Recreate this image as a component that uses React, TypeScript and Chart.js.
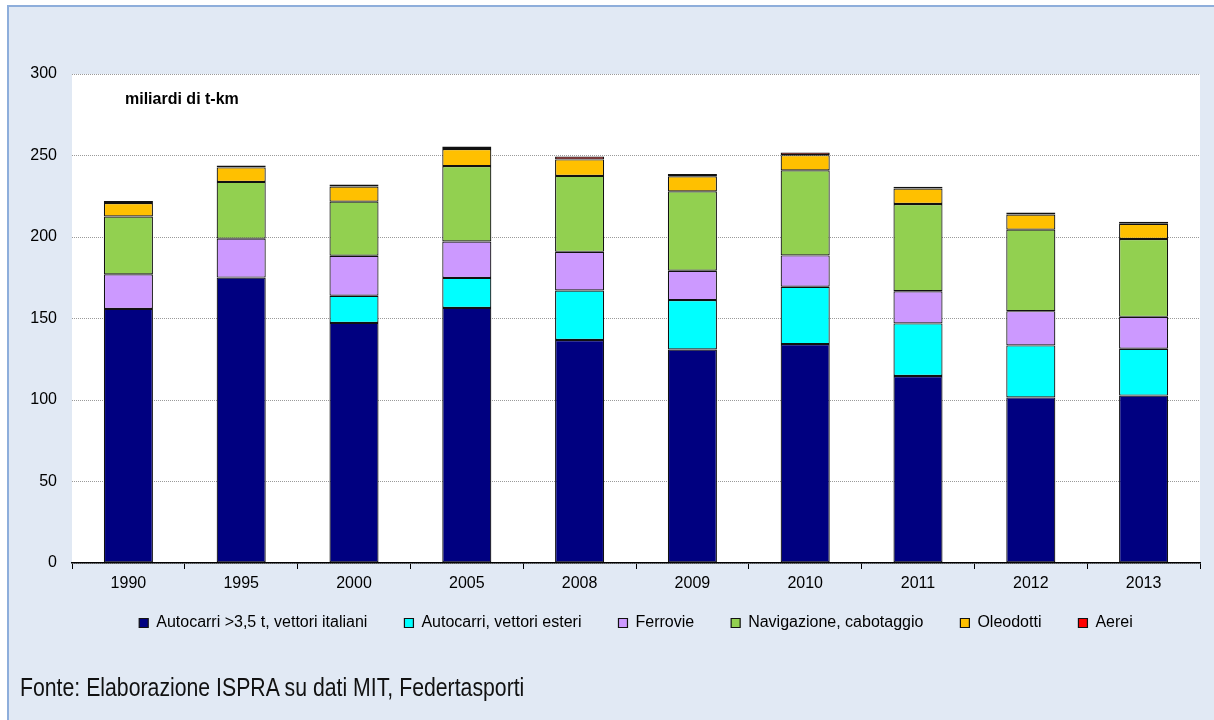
import React, { useEffect, useRef } from "react";
import { Chart, registerables } from "chart.js";

Chart.register(...registerables);

const years = ["1990", "1995", "2000", "2005", "2008", "2009", "2010", "2011", "2012", "2013"];
const autocarriItaliani = [155.9, 175.1, 147.3, 156.5, 136.8, 131.0, 134.3, 114.7, 101.6, 102.7];
const autocarriEsteri = [0, 0, 16.7, 18.4, 30.4, 30.3, 35.2, 32.3, 31.9, 28.7];
const ferrovie = [21.2, 23.9, 24.5, 22.3, 23.7, 18.0, 19.2, 19.7, 21.0, 19.6];
const navigazione = [35.5, 34.8, 33.2, 46.3, 46.6, 48.7, 52.2, 53.5, 50.0, 47.8];
const oleodotti = [8.3, 8.9, 9.3, 10.5, 10.1, 9.3, 9.3, 9.6, 9.3, 9.3];
const aerei = [1.2, 1.2, 1.2, 1.5, 1.8, 1.3, 1.6, 1.0, 1.2, 1.2];

const seriesLabels = [
  "Autocarri >3,5 t, vettori italiani",
  "Autocarri, vettori esteri",
  "Ferrovie",
  "Navigazione, cabotaggio",
  "Oleodotti",
  "Aerei",
];
const seriesColors = ["#000080", "#00FFFF", "#CC99FF", "#92D050", "#FFC000", "#FF0000"];
const unitLabel = "miliardi di t-km";
const sourceText = "Fonte: Elaborazione ISPRA su dati MIT, Federtasporti";

const FONT = "'Liberation Sans', Arial, sans-serif";
const LEGEND_PAD = 37;

export default function App() {
  const canvasRef = useRef<HTMLCanvasElement | null>(null);

  useEffect(() => {
    const canvas = canvasRef.current;
    if (!canvas) return;
    const seriesData = [autocarriItaliani, autocarriEsteri, ferrovie, navigazione, oleodotti, aerei];

    const plotBg = {
      id: "plotBg",
      afterLayout(chart: any) {
        const lg = chart.legend;
        const ca = chart.chartArea;
        if (lg && ca) {
          const h = lg.bottom - lg.top;
          lg.left = ca.left;
          lg.right = ca.right;
          lg.top = 623 - LEGEND_PAD - 8;
          lg.bottom = lg.top + h;
        }
      },
      beforeDraw(chart: any) {
        const { ctx, chartArea } = chart;
        ctx.save();
        ctx.fillStyle = "#ffffff";
        ctx.fillRect(chartArea.left, chartArea.top, chartArea.right - chartArea.left, chartArea.bottom - chartArea.top);
        ctx.restore();
      },
      afterDraw(chart: any) {
        const { ctx, chartArea } = chart;
        ctx.save();
        ctx.font = `bold 16px ${FONT}`;
        ctx.fillStyle = "#000";
        ctx.textBaseline = "middle";
        ctx.fillText(unitLabel, chartArea.left + 53, chartArea.top + 26);
        ctx.restore();
      },
    };

    const chart = new Chart(canvas, {
      type: "bar",
      data: {
        labels: years,
        datasets: seriesLabels.map((label, i) => ({
          label,
          data: seriesData[i],
          backgroundColor: seriesColors[i],
          borderColor: "#111111",
          borderWidth: 1.2,
          borderSkipped: false,
          categoryPercentage: 1,
          barPercentage: 0.435,
        })),
      },
      options: {
        responsive: false,
        animation: false,
        layout: { padding: { left: 0, right: 14, top: 74, bottom: 62 } },
        plugins: {
          legend: {
            position: "bottom",
            labels: {
              boxWidth: 9,
              boxHeight: 9,
              padding: LEGEND_PAD,
              color: "#000",
              font: { family: FONT, size: 16 },
            },
          },
          tooltip: { enabled: false },
        },
        scales: {
          x: {
            stacked: true,
            afterFit(scale: any) {
              scale.height = 32;
            },
            grid: {
              display: true,
              drawOnChartArea: false,
              drawTicks: true,
              tickLength: 6,
              color: "#000",
              offset: true,
            },
            border: { display: true, color: "#000", width: 1.5 },
            ticks: { color: "#000", font: { family: FONT, size: 16 }, padding: 5 },
          },
          y: {
            stacked: true,
            min: 0,
            max: 300,
            afterFit(scale: any) {
              scale.width = 72;
            },
            grid: {
              color: "#9a9a9a",
              drawTicks: false,
              lineWidth: 1,
            },
            border: { display: false, dash: [1, 1] },
            ticks: {
              stepSize: 50,
              color: "#000",
              padding: 15,
              font: { family: FONT, size: 16 },
            },
          },
        },
      },
      plugins: [plotBg],
    });

    return () => chart.destroy();
  }, []);

  return (
    <div style={{ position: "fixed", left: 0, top: 0, width: 1214, height: 720, overflow: "hidden", background: "#fff" }}>
      <div
        style={{
          position: "absolute",
          left: 7,
          top: 5,
          width: 1230,
          height: 740,
          background: "#e1e9f4",
          border: "2px solid #8eaedb",
        }}
      />
      <canvas ref={canvasRef} width={1214} height={720} style={{ position: "absolute", left: 0, top: 0, display: "block" }} />
      <div
        style={{
          position: "absolute",
          left: 20,
          top: 672,
          fontFamily: "'Liberation Sans Narrow', 'Arial Narrow', 'Liberation Sans', sans-serif",
          fontSize: 25,
          color: "#111",
          whiteSpace: "nowrap",
          lineHeight: "30px",
          transform: "scaleX(0.85)",
          transformOrigin: "left center",
        }}
      >
        {sourceText}
      </div>
    </div>
  );
}
